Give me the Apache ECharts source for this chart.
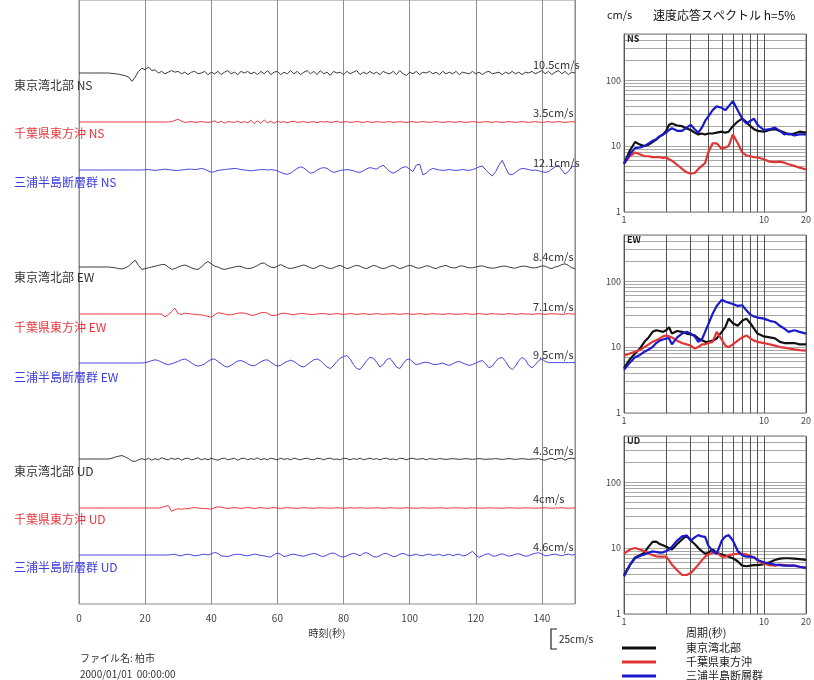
<!DOCTYPE html>
<html><head><meta charset="utf-8">
<script src="https://cdn.jsdelivr.net/npm/echarts@6/dist/echarts.min.js"></script>
<style>html,body{margin:0;padding:0;background:#fff}#c{width:814px;height:680px}</style>
</head><body><div id="c"></div>
<script>
// ---------- data ----------
const timeStep = 1; // seconds between samples
const stations = ['東京湾北部', '千葉県東方沖', '三浦半島断層群'];
const components = ['NS', 'EW', 'UD'];
const peakLabels = ['10.5cm/s','3.5cm/s','12.1cm/s','8.4cm/s','7.1cm/s','9.5cm/s','4.3cm/s','4cm/s','4.6cm/s'];

const wfNS_tokyo = [0,0,0,0,0,0,0,0,0,0,
-0.5,-1,-1.5,-2.5,-3.5,-5,-10.5,-5,2,6,
4,7.5,3,4,0,2,-1,1,3,1,
2,-1,1,-2,1,2,-1,0,2,-2,
1,-1,2,-2,1,3,-1,1,-2,2,
0,2,-1,1,-2,2,-1,3,-2,1,
2,-2,1,-1,3,-1,2,-2,1,3,
-1,2,-2,3,-1,1,-3,2,0,1,
-2,2,-1,1,3,-2,1,-1,2,-1,
1,-2,2,0,-1,2,-2,3,-1,-3,
1,-1,2,-2,1,0,2,-1,1,-2,
2,-1,1,-1,2,-2,1,0,-1,2,
-1,1,-2,1,2,-1,0,1,-2,1,
-1,2,-1,1,-2,1,0,2,-1,1,
3,-1,2,-2,1,3,-1,2,-2,1,0];
const wfNS_chiba = [0,0,0,0,0,0,0,0,0,0,
0,0,0,0,0,0,0,0,0,0,
0,0,0,0,0,0,0,0,0.5,2,
3.5,1,-0.5,0,0.5,-0.5,0,0.5,0,-0.5,
0,1.5,-1,1,-1.5,0.5,0,-0.5,1,-1,
0.5,-1,2,-2,1.5,-1.5,2.5,-1,1,-1.5,
1,-0.5,0.5,-1,0.5,1,-0.5,0,0.5,-0.5,
0,0.5,-1,0.5,0,0.5,-0.5,0,1,-0.5,
0,0.5,-0.5,0,0.5,0,-0.5,0.5,0,-0.5,
0.5,0,-0.5,0,0.5,-0.5,0,0.5,0,-0.5,
0,0.5,-0.5,0,0.5,0,-0.5,0,0.5,0,
-0.5,0,0.5,0,-0.5,0.5,0,-0.5,0,0.5,
0,-0.5,0,0.5,0,-0.5,0.5,0,-0.5,0,
0.5,0,-0.5,0,0.5,0,-0.5,0,0.5,0,
-0.5,0,0.5,-0.5,0,0.5,0,-0.5,0,0.5,0];
const wfNS_miura = [0,0,0,0,0,0,0,0,0,0,
0,0,0,0,0,0,0,0,0,0,
0.5,0.5,0,-0.5,0,0.5,1,0.5,0,-0.5,
-0.5,0,0.5,1,1,0.5,1,2,1,-1,
-3,-2,-0.5,0,0.5,1,1.5,2,1.5,0.5,
0,-0.5,-1,-0.5,0,0.5,0.5,0,0.5,0,
-1,-3,-4.5,-5.5,-4,-1,2,4,2.5,-1,
-4,-3,0,2,3,2,-1,-3,-2,-0.5,
0,0.5,0,-1,-2.5,-3,-1,1.5,3,2,
1,4,6,2,-2,-4,-2,1,3.5,4,
1,-2,6,7.5,-6,-4,0,2,1,0,
-0.5,0,0.5,0,-0.5,0,0.5,0,-0.5,0.5,
2,4,5,0,-4,-7.5,-2,6,12.1,3,
-5,-6,-3,0,2,1.5,0.5,-0.5,0,-1,
-2,-3,-2,1,4,6,0,-5,-2,4,5];
const wfEW_tokyo = [0,0,0,0,0,0,0,0,0,0,
-0.5,-1,-2,-2.5,-1,1,5,8.4,2,-3,
-2,-1,0,1,2,3,3,0,-3,-2,
0,1.5,2.5,1,-1,-2.5,-3,0,4,7,
4,1,0,-2,-3,-2,-1,0,1,0.5,
-1,-2,-1.5,0,2,4.5,5,2,0,-1,
1,3,1,-1,-2,-1,0,1.5,2.5,1,
-1,-2,0,2,1,-1,-2,-1,1,2,
0,-2,-1,1,2,1,-1,-2,0,2,
1,-1,-2,-1,1,2,0,-2,-1,1,
2,1,-1,-1.5,0,1.5,1,-1,-2,0,
1,2,0,-1,-1,1,1.5,0,-1,-1,
0,1,1.5,0,-1,-1.5,-1,0,1,1,
0,-1,-1.5,0,1,1,0,-1,-1,0,
1.5,1,-1,-2,0,1,3,4,2,-1,-2];
const wfEW_chiba = [0,0,0,0,0,0,0,0,0,0,
0,0,0,0,0,0,0,0,0,0,
0,0,0,0,0,0,-3.5,-1,3,7.1,
0.5,-0.5,1,0.5,0,-0.5,-1,-1,-2,-3,
-4,-1,1.5,1,0,-1,-1,0,1,1.5,
1,0,-1.5,-1.5,0,1.5,2,1,-1.5,-2,
-1,0.5,1,0.5,-0.5,-1,0,0.5,0.5,0,
-0.5,-0.5,0,0.5,0.5,0,-0.5,0,0.5,0,
-0.5,0,0.5,0,-0.5,0,0.5,0,-0.5,0,
0.5,0,-0.5,0,0,0.5,0,-0.5,0,0.5,
0,-0.5,0,0.5,0,-0.5,0,0.5,0,0,
-0.5,0,0.5,0,-0.5,0,0,0.5,0,-0.5,
0,0.5,0,-0.5,0,0.5,0,0,-0.5,0,
0.5,0,-0.5,0,0.5,0,0,-0.5,0,0.5,
0,-0.5,0,0.5,0,0,-0.5,0,0.5,0,0];
const wfEW_miura = [0,0,0,0,0,0,0,0,0,0,
0,0,0,0,0,0,0,0,0,0,
0.5,1.5,3,4,3,1,-1,-2,-1,0.5,
2,4,5,3,0,-2.5,-4,-3,-1,2,
4.5,5,2,-1,-4,-5,-3,0,2.5,3,
1.5,-1,-3,-3.5,-1,1.5,3.5,4,1,-2,
-4,-3,0,2,3.5,2,-1,-4,-5,-2,
1,4,5,3,-1,-5,-7,-3,2,6,
8,9.5,5,-2,-7,-8,-3,3,7,6,
1,-5,-2,4,6,1,-5,-7,-1,4,
5,1,-2,-1,0.5,1,0,-1.5,-2,-1,
0,-2,-3,-1,1,2,0,-1.5,-3,-2,
0,2,3,-1,-6,-4,2,6,7,2,
-5,-8,-4,3,7,4,-3,-6,-2,3,
5,2,0.5,0.5,0.5,0.5,0.5,0.5,0.5,0.5,0.5];
const wfUD_tokyo = [0,0,0,0,0,0,0,0,0,0,
1,2.5,3.5,4.3,2.5,0.5,-2.5,-3,-1,0.5,
-1,1,-1.5,0.5,-1,1.5,0,-1,1,-0.5,
1,-1.5,0.5,1,-1,0,1.5,-1,0.5,-1,
1,-0.5,-1.5,0.5,1,-1,0,1,-1.5,0.5,
1,-1,0.5,-0.5,1.5,-1,0.5,-1,1,0,
-1,1,-0.5,0.5,-1,1,0,-1,0.5,1,
-0.5,-1,1,0.5,-1,0.5,1,-0.5,0,-1,
1,0.5,-1,0.5,-0.5,1,-1,0,1,-0.5,
0.5,-1,0.5,1,-0.5,0,-1,1,0.5,-1,
0.5,1,-0.5,0,0.5,-1,0.5,0,-0.5,0.5,
0,-0.5,0,0.5,0,-0.5,0,0.5,0,-0.5,
0,0.5,0,-0.5,0,0,0.5,0,-0.5,0,
0.5,0,-0.5,0,0.5,0,-0.5,0,0,0.5,
-1,-1.5,0,1,-1,0.5,1,-1.5,0.5,1,0];
const wfUD_chiba = [0,0,0,0,0,0,0,0,0,0,
0,0,0,0,0,0,0,0,0,0,
0,0,0,0,0,0.5,2,3,-4,-2,
-1,-1.5,-1,-0.5,0,0.5,0,-0.5,-0.5,-1,
-1.5,0.5,1.5,1,0,-0.5,0,0.5,0,-0.5,
0,0.5,0,-0.5,0,0.5,0,-0.5,0,0.5,
0,-0.5,0,0.5,0,0,-0.5,0,0.5,0,
0,-0.3,0,0.3,0,0,-0.3,0,0.3,0,
-0.3,0,0.3,0,0,0.3,0,-0.3,0,0,
0.3,0,-0.3,0,0.3,0,0,-0.3,0,0.3,
0,0,-0.3,0,0.3,0,-0.3,0,0,0.3,
0,-0.3,0,0,0.3,0,0,-0.3,0,0.3,
0,0,-0.3,0,0.3,0,0,0,-0.3,0,
0.3,0,0,-0.3,0,0.3,0,0,-0.3,0,
0,0.3,0,-0.3,0,0,0.3,0,-0.3,0,0];
const wfUD_miura = [0,0,0,0,0,0,0,0,0,0,
0,0,0,0,0,0,0,0,0,0,
0,0,0,0,0,0,0,0,0.5,1,
-0.5,-1,0.5,1,0,-1,-0.5,0.5,1,0,
1.5,3.3,2,-1,-1.5,-2,-0.5,0.5,1,0.5,
-0.5,-1,0,1,0.5,-0.5,-1,-2,-2.5,0.5,
2.5,1,-2,-1,0.5,1,0,-1,-1.5,0,
1,2,1,-1,-2,0,2,2.5,0.5,-2,
-2.5,-1,1,2,1,-1,2,3,0.5,-2,
-2.5,-1,1.5,2,0,-2,-1.5,1,2,0.5,
-1,0,1,-0.5,-1,0.5,1,-0.5,0,1,
-1,0,1,-1,0.5,1,-1,-0.5,2,4.6,
0,-3,-1,1,1.5,-1,-1.5,0.5,1.5,0,
-1.5,-0.5,1,1.5,0,-1.5,-1,1,2,3,
1,-1,-0.5,0.5,1,0,-1,0.5,1,0,0.5];

// response spectra (h=5%), velocity cm/s vs period s
const periods = [1,1.1,1.2,1.3,1.4,1.5,1.6,1.7,1.8,1.9, 2.0,2.1,2.2,2.4,2.6,2.8,3.0,3.2,3.4,3.6, 3.8,4.0,4.3,4.6,5.0,5.3,5.6,6.0,6.5,7.0, 7.5,8.0,8.5,9.0,10,11,12,13,14,15, 16.5,18,20];
const specNS_tokyo = [5.4,8.5,11.5,10.5,10,10.5,11.5,12.5,14,15, 17,21,22,20.5,20,18.5,17.5,16,15,15.5, 15,15.5,15.5,16,16.5,16,16.5,20,23.5,26, 23,20,18,17,16.5,17.5,18,17,16,15, 15.5,16.5,16];
const specNS_chiba = [5.4,7,8,7.5,7,7,6.8,6.8,6.8,6.6, 6.7,6.3,6,5.2,4.5,4,3.8,3.9,4.5,5, 5.5,8,11,11,9,9.5,10,15,11,8, 7.2,7,6.8,6.7,6.3,5.8,5.7,5.8,5.6,5.3, 5,4.7,4.4];
const specNS_miura = [5.4,7.5,9.3,9.5,10,11,12,12.7,14,15, 16,17.5,18.6,17,17,19,21,18,16,19, 24,28,35,40,38,35,40,48,35,26, 22,24,26,21,17.5,18,19,17,15,15.5, 14.5,15,15];
const specEW_tokyo = [4.8,6.5,8,9.5,12,14,17,18,17.5,17, 18,20,16,17.5,17,16,15.5,15,13.5,12.7, 12,12,12.5,13.5,17,20,27,23,21,25, 27,23,19,16,14.5,14,13.5,12,11.5,11.5, 11.5,11,11];
const specEW_chiba = [7.4,8,8.5,9,10,11,12,12.7,13.5,14.5, 15,14.5,14,12.5,11.5,11,10.5,9.5,10,11, 11,11.5,12,17,13,10.5,10,11,12.5,14, 15,13.5,12.5,12,11.5,11,10.5,10,9.8,9.5, 9.2,9,8.8];
const specEW_miura = [4.5,5.8,7,7.6,8.5,9.2,10,11.5,12.5,13, 13.5,13.5,11,14,16,17,16,14.5,12,13, 17,22,32,42,52,49,47,45,42,43, 36,31,29,28,27,25,24,21,19,17, 18,17,16];
const specUD_tokyo = [3.9,5.5,7.2,7.8,8.5,10.5,12.4,12.5,11.5,11, 10.5,10,9.5,11.5,13.5,15.5,13,11.5,10,9, 8.2,8.5,9.5,8.5,8,7.7,7.4,7,6.3,5.4, 5.3,5.4,5.5,5.5,5.7,6.1,6.6,6.9,7,7, 6.9,6.8,6.6];
const specUD_chiba = [8.2,9.5,10,9.5,9,8.3,7.8,7.5,7.4,7.4, 7.4,6.5,5.6,4.6,3.9,3.9,4.2,4.8,5.6,6.5, 7.4,8,8.5,8.5,7.4,7.4,7.8,8,8.2,8.2, 8,7.6,7.2,6.5,5.8,5.5,5.4,5.6,5.5,5.4, 5.4,5.2,5];
const specUD_miura = [3.7,5.5,7,7.6,8,8.5,8.9,8.7,8.5,8.6, 9,9.5,10.5,13,15,15.5,13,14.5,15.7,15, 14.8,11,9,8.2,13,15,15.7,13,9,7.8, 7.4,7.4,7.2,6.6,6.1,5.8,5.6,5.5,5.4,5.4, 5.4,5.2,5];

const specXGrid = [1,2,3,4,5,6,7,8,9,10,20];
const specXLabels = [1,10,20];
const specYGrid = [1,2,3,4,5,6,7,8,9,10,20,30,40,50,60,70,80,90,100,200,300,400,500];
const specYLabels = [1,10,100];

// ---------- layout / style ----------
const FONT = '"Noto Sans CJK JP", "Noto Sans", sans-serif';
const colWave = ['#3a3a3a', '#e8383d', '#4646e0'];
const colText = ['#333333', '#e8383d', '#3c3ce0'];
const colSpec = ['#111111', '#e23535', '#1a1acc'];
const baselines = [73, 122, 170, 267, 314, 363, 459, 508, 555];
const labelY = [85, 133, 182, 277, 327, 377, 471, 519, 567];
const peakY = [65, 113, 163, 257, 307, 355, 451, 499, 547];
const specTops = [34, 235, 436];

const waves = [wfNS_tokyo, wfNS_chiba, wfNS_miura, wfEW_tokyo, wfEW_chiba, wfEW_miura, wfUD_tokyo, wfUD_chiba, wfUD_miura];
const specs = [[specNS_tokyo, specNS_chiba, specNS_miura], [specEW_tokyo, specEW_chiba, specEW_miura], [specUD_tokyo, specUD_chiba, specUD_miura]];

const grids = [], xAxes = [], yAxes = [], series = [], graphics = [];

grids.push({left: 79, top: 0, width: 496, height: 604, show: true, borderColor: '#8c8c8c', borderWidth: 1});
xAxes.push({gridIndex: 0, type: 'value', min: 0, max: 150, interval: 20,
  axisLine: {show: false}, axisTick: {show: false},
  axisLabel: {color: '#444', fontSize: 10, margin: 9, showMaxLabel: false, fontFamily: FONT},
  splitLine: {show: true, lineStyle: {color: '#8c8c8c', width: 1}},
  name: '時刻(秒)', nameLocation: 'middle', nameGap: 23,
  nameTextStyle: {color: '#333', fontSize: 10, fontFamily: FONT}});
yAxes.push({gridIndex: 0, type: 'value', min: 0, max: 1, show: false});

waves.forEach((w, i) => {
  const gi = i + 1;
  grids.push({left: 79, top: baselines[i] - 25, width: 496, height: 50});
  xAxes.push({gridIndex: gi, type: 'value', min: 0, max: 150, show: false});
  yAxes.push({gridIndex: gi, type: 'value', min: -31.25, max: 31.25, show: false});
  series.push({type: 'line', name: stations[i % 3] + ' ' + components[Math.floor(i / 3)],
    xAxisIndex: gi, yAxisIndex: gi, data: w.map((v, k) => [k * timeStep, v]),
    symbol: 'none', showSymbol: false, silent: true, z: 3,
    lineStyle: {color: colWave[i % 3], width: 1}});
  graphics.push({type: 'text', x: 14, y: labelY[i], z: 10,
    style: {text: stations[i % 3] + ' ' + components[Math.floor(i / 3)], fill: colText[i % 3],
      font: '12px ' + FONT, verticalAlign: 'middle', align: 'left'}});
  graphics.push({type: 'text', x: 533, y: peakY[i], z: 10,
    style: {text: peakLabels[i], fill: '#333', font: '11px ' + FONT, verticalAlign: 'middle', align: 'left'}});
});

specTops.forEach((top, p) => {
  const gi = 10 + p;
  grids.push({left: 624, top: top, width: 185, height: 178, show: true, borderColor: '#777', borderWidth: 1});
  xAxes.push({gridIndex: gi, type: 'log', logBase: 10, min: 1, max: 20,
    axisLine: {show: false}, axisTick: {show: false, customValues: specXGrid},
    axisLabel: {customValues: specXLabels, color: '#444', fontSize: 9, margin: 3, fontFamily: FONT},
    splitLine: {show: true, lineStyle: {color: '#555', width: 1}}});
  yAxes.push({gridIndex: gi, type: 'log', logBase: 10, min: 1, max: 500,
    axisLine: {show: false}, axisTick: {show: false, customValues: specYGrid},
    axisLabel: {customValues: specYLabels, color: '#444', fontSize: 9, margin: 3, fontFamily: FONT},
    splitLine: {show: true, lineStyle: {color: '#a8a8a8', width: 1}}});
  specs[p].forEach((vals, s) => {
    series.push({type: 'line', name: stations[s], xAxisIndex: gi, yAxisIndex: gi,
      data: periods.map((T, k) => [T, vals[k]]), symbol: 'none', showSymbol: false, z: 3,
      lineStyle: {color: colSpec[s], width: 2.2}});
  });
  graphics.push({type: 'text', x: 627, y: top + 5, z: 10,
    style: {text: components[p], fill: '#222', font: 'bold 9px ' + FONT, verticalAlign: 'middle', align: 'left'}});
});

// titles and annotations
graphics.push({type: 'text', x: 607, y: 15, style: {text: 'cm/s', fill: '#222', font: '11px ' + FONT, verticalAlign: 'middle'}});
graphics.push({type: 'text', x: 653, y: 15, style: {text: '速度応答スペクトル h=5%', fill: '#111', font: '12px ' + FONT, verticalAlign: 'middle'}});
graphics.push({type: 'text', x: 686, y: 633, style: {text: '周期(秒)', fill: '#222', font: '11px ' + FONT, verticalAlign: 'middle'}});
stations.forEach((s, i) => {
  const y = 648 + i * 14;
  graphics.push({type: 'line', shape: {x1: 622, y1: y, x2: 656, y2: y}, style: {stroke: colSpec[i], lineWidth: 3}});
  graphics.push({type: 'text', x: 686, y: y, style: {text: s, fill: '#222', font: '11px ' + FONT, verticalAlign: 'middle'}});
});
graphics.push({type: 'polyline', shape: {points: [[557, 629], [551, 629], [551, 649], [557, 649]]}, style: {stroke: '#222', lineWidth: 1.2, fill: null}});
graphics.push({type: 'text', x: 559, y: 639, style: {text: '25cm/s', fill: '#222', font: '10px ' + FONT, verticalAlign: 'middle'}});
graphics.push({type: 'text', x: 80, y: 658, style: {text: 'ファイル名: 柏市', fill: '#333', font: '10px ' + FONT, verticalAlign: 'middle'}});
graphics.push({type: 'text', x: 80, y: 674, style: {text: '2000/01/01  00:00:00', fill: '#333', font: '10px ' + FONT, verticalAlign: 'middle'}});

const chart = echarts.init(document.getElementById('c'), null, {renderer: 'canvas'});
chart.setOption({
  animation: false,
  backgroundColor: '#ffffff',
  textStyle: {fontFamily: FONT},
  grid: grids, xAxis: xAxes, yAxis: yAxes, series: series,
  graphic: graphics
});
</script></body></html>
